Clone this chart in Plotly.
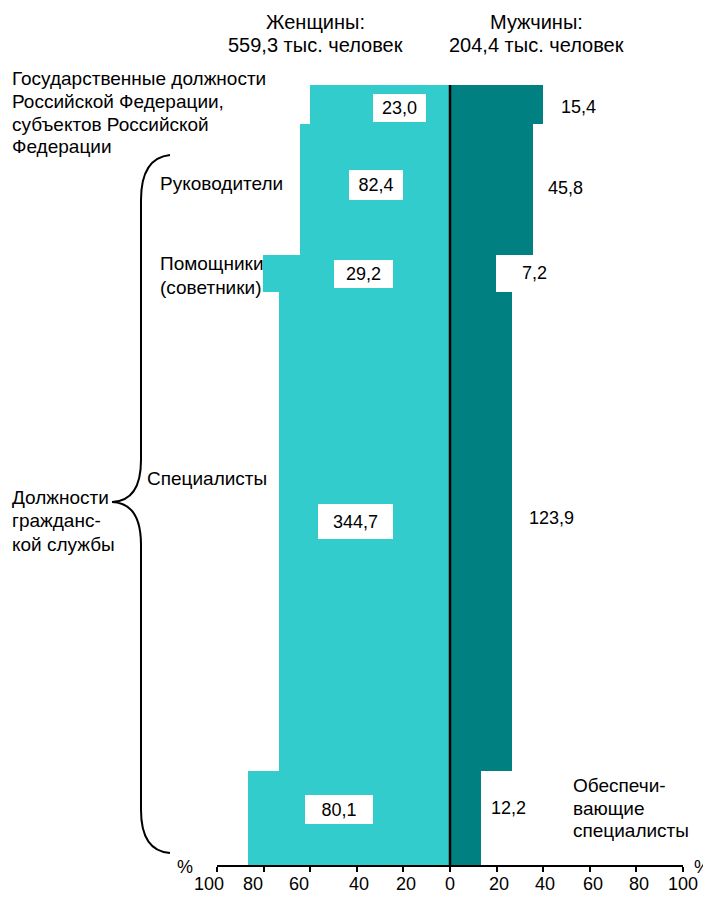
import plotly.graph_objects as go

# ---------------- data ----------------
categories = ["Государственные должности", "Руководители", "Помощники (советники)",
              "Специалисты", "Обеспечивающие специалисты"]
women = [23.0, 82.4, 29.2, 344.7, 80.1]
men = [15.4, 45.8, 7.2, 123.9, 12.2]
women_label = ["23,0", "82,4", "29,2", "344,7", "80,1"]
men_label = ["15,4", "45,8", "7,2", "123,9", "12,2"]
tick_vals = [-100, -80, -60, -40, -20, 0, 20, 40, 60, 80, 100]
tick_text = ["100", "80", "60", "40", "20", "0", "20", "40", "60", "80", "100"]

totals = [w + m for w, m in zip(women, men)]
women_pct = [100 * w / t for w, t in zip(women, totals)]
men_pct = [100 * m / t for m, t in zip(men, totals)]
grand = sum(totals)
centers = []
acc = 0
for t in totals:
    centers.append(acc + t / 2)
    acc += t

# ---------------- layout constants ----------------
OFF = 8                     # default page body margin
PAGE_W, PAGE_H = 711, 897
W, H = PAGE_W - OFF, PAGE_H - OFF
X0, X1, Y0, Y1 = 217, 683, 85, 865      # plot area in page pixels
L, R, T, B = X0 - OFF, PAGE_W - X1, Y0 - OFF, PAGE_H - Y1
PW, PH = X1 - X0, Y1 - Y0
FONT = "Liberation Sans, Arial, sans-serif"
FS_HEAD = 20
FS_TXT = 19
FS_NUM = 18
C_W = "#33CCCC"
C_M = "#008080"


def px(x):
    return (x - X0) / PW


def py(y):
    return (Y1 - y) / PH


fig = go.Figure()
fig.add_trace(go.Bar(orientation="h", y=centers, x=[-p for p in women_pct], width=totals,
                     marker=dict(color=C_W, line=dict(width=0)), name="Женщины",
                     hoverinfo="skip"))
fig.add_trace(go.Bar(orientation="h", y=centers, x=men_pct, width=totals,
                     marker=dict(color=C_M, line=dict(width=0)), name="Мужчины",
                     hoverinfo="skip"))

ann = []
# women value boxes (positions in axis %, pixel shift)
w_lab_x = [-21.5, -31.8, -37.3, -40.6, -47.6]
w_lab_shift = [-3.5, 5, 0, 10, 8]
box_w = [53, 54, 59, 75, 68]
box_h = [28, 30, 28, 35, 29]
for i in range(len(women)):
    ann.append(dict(x=w_lab_x[i], y=centers[i], xref="x", yref="y", text=women_label[i],
                    showarrow=False, bgcolor="white", borderwidth=0, borderpad=0,
                    width=box_w[i], height=box_h[i], yshift=w_lab_shift[i],
                    font=dict(size=FS_NUM, color="black", family=FONT)))
# men value labels
m_lab_x = [46.8, 41.2, 30.0, 33.0, 16.7]
m_lab_shift = [-2.4, 1.7, 0.7, 13.5, 10]
for i in range(len(men)):
    ann.append(dict(x=m_lab_x[i], y=centers[i], xref="x", yref="y", text=men_label[i],
                    showarrow=False, xanchor="left", yshift=m_lab_shift[i],
                    font=dict(size=FS_NUM, color="black", family=FONT)))

# tick labels (drawn as annotations to mimic the original's spacing)
tick_xshift = [-8, -11, -11, 2, 3, 0, 2, 2, 3, 3, 0]
for v, t, s in zip(tick_vals, tick_text, tick_xshift):
    ann.append(dict(x=v, y=py(884), xref="x", yref="paper", text=t, showarrow=False,
                    xanchor="center", yanchor="middle", xshift=s,
                    font=dict(size=FS_NUM, color="black", family=FONT)))

# text lines (page pixel positions)
texts = [
    (315, 22, "center", "Женщины:", FS_HEAD),
    (315, 45, "center", "559,3 тыс. человек", FS_HEAD),
    (536, 22, "center", "Мужчины:", FS_HEAD),
    (536, 45, "center", "204,4 тыс. человек", FS_HEAD),
    (10, 78, "left", "Государственные должности", FS_TXT),
    (10, 101, "left", "Российской Федерации,", FS_TXT),
    (10, 124, "left", "субъектов Российской", FS_TXT),
    (10, 146, "left", "Федерации", FS_TXT),
    (158, 183, "left", "Руководители", FS_TXT),
    (158, 264, "left", "Помощники", FS_TXT),
    (158, 287, "left", "(советники)", FS_TXT),
    (145, 478, "left", "Специалисты", FS_TXT),
    (10, 497, "left", "Должности", FS_TXT),
    (10, 520, "left", "гражданс-", FS_TXT),
    (10, 544, "left", "кой службы", FS_TXT),
    (571, 785, "left", "Обеспечи-", FS_TXT),
    (571, 808, "left", "вающие", FS_TXT),
    (571, 830, "left", "специалисты", FS_TXT),
    (185, 867, "center", "%", FS_NUM),
    (702, 867, "center", "%", FS_NUM),
]
for x, y, anc, t, fs in texts:
    ann.append(dict(x=px(x), y=py(y), xref="paper", yref="paper", text=t, showarrow=False,
                    xanchor=anc, yanchor="middle", align=anc,
                    font=dict(size=fs, color="black", family=FONT)))


def P(x, y):
    return f"{px(x):.5f},{py(y):.5f}"


brace = (f"M {P(170,155)} Q {P(141,158)} {P(141,200)} L {P(141,460)} "
         f"Q {P(141,501)} {P(112,502)} Q {P(141,503)} {P(141,545)} "
         f"L {P(141,810)} Q {P(141,851)} {P(170,853)}")

shapes = [
    dict(type="line", xref="x", yref="paper", x0=0, x1=0, y0=0, y1=1,
         line=dict(color="black", width=2.5)),
    dict(type="path", xref="paper", yref="paper", path=brace,
         line=dict(color="black", width=2)),
]

fig.update_layout(
    width=W, height=H,
    margin=dict(l=L, r=R, t=T, b=B, pad=0, autoexpand=False),
    paper_bgcolor="white", plot_bgcolor="white",
    barmode="overlay", bargap=0, showlegend=False,
    font=dict(family=FONT, size=FS_NUM, color="black"),
    xaxis=dict(range=[-100, 100], tickvals=tick_vals, showticklabels=False,
               ticks="outside", ticklen=5, tickwidth=2, tickcolor="black",
               showline=True, linewidth=2, linecolor="black", zeroline=False,
               showgrid=False, fixedrange=True, automargin=False),
    yaxis=dict(range=[grand, 0], visible=False, showgrid=False, zeroline=False,
               fixedrange=True, automargin=False),
    annotations=ann,
    shapes=shapes,
)

fig.write_html("out.html")
